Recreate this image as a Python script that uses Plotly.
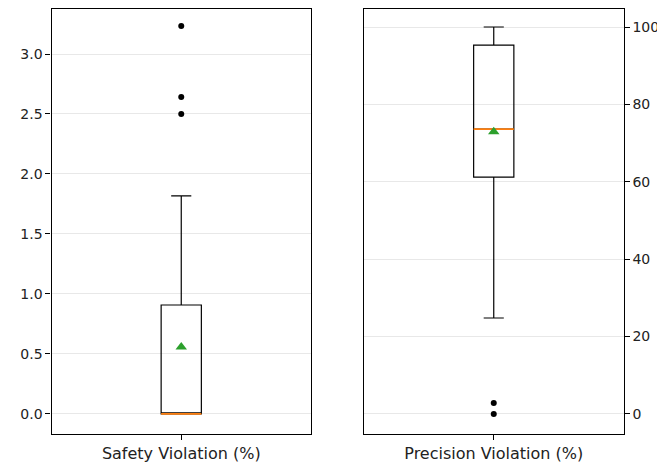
import plotly.graph_objects as go
from plotly.subplots import make_subplots

# Safety Violation (%) summary statistics
safety_label = ["Safety Violation (%)"]
safety_q1 = [0.0]
safety_median = [0.0]
safety_q3 = [0.908]
safety_low = [0.0]
safety_high = [1.817]
safety_mean = [0.558]
safety_outliers = [2.50, 2.642, 3.233]

# Precision Violation (%) summary statistics
precision_label = ["Precision Violation (%)"]
precision_q1 = [61.2]
precision_median = [73.6]
precision_q3 = [95.3]
precision_low = [24.8]
precision_high = [100.0]
precision_mean = [72.9]
precision_outliers = [0.0, 2.84]

BOX_W = 0.155
OFF = 8  # default page body margin
W, H = 665 - OFF, 464 - OFF
FONT = "DejaVu Sans"


def px_x(p):
    return (p - OFF) / W


def px_y(p):
    return 1 - (p - OFF) / H


fig = make_subplots(rows=1, cols=2)


def add_panel(col, q1, med, q3, lo, hi, mean, outl):
    x = [1]
    fig.add_trace(go.Box(
        x=x, q1=q1, median=med, q3=q3, lowerfence=lo, upperfence=hi,
        width=BOX_W, whiskerwidth=0.5,
        fillcolor="rgba(0,0,0,0)", line=dict(color="black", width=1.2),
        boxpoints=False, hoverinfo="skip", showlegend=False,
    ), row=1, col=col)
    # orange median line
    fig.add_trace(go.Scatter(
        x=[x[0] - BOX_W / 2, x[0] + BOX_W / 2], y=[med[0], med[0]],
        mode="lines", line=dict(color="#ff7f0e", width=1.8),
        showlegend=False, hoverinfo="skip",
    ), row=1, col=col)
    # mean marker
    fig.add_trace(go.Scatter(
        x=x, y=mean, mode="markers",
        marker=dict(symbol="triangle-up", color="#2ca02c", size=10),
        showlegend=False, hoverinfo="skip",
    ), row=1, col=col)
    # outliers
    fig.add_trace(go.Scatter(
        x=[x[0]] * len(outl), y=outl, mode="markers",
        marker=dict(symbol="circle", color="black", size=6),
        showlegend=False, hoverinfo="skip",
    ), row=1, col=col)


add_panel(1, safety_q1, safety_median, safety_q3, safety_low, safety_high,
          safety_mean, safety_outliers)
add_panel(2, precision_q1, precision_median, precision_q3, precision_low,
          precision_high, precision_mean, precision_outliers)

axis_common = dict(
    showline=True, linecolor="black", linewidth=1.2, mirror=True,
    ticks="outside", ticklen=5, tickwidth=1, tickcolor="black",
    zeroline=False, automargin=False,
)

fig.update_xaxes(**axis_common, range=[0.5, 1.5], showgrid=False,
                 tickfont=dict(family=FONT, size=16, color="#222"))
fig.update_xaxes(tickvals=[1], ticktext=safety_label, row=1, col=1,
                 domain=[px_x(51.5), px_x(311)])
fig.update_xaxes(tickvals=[1], ticktext=precision_label, row=1, col=2,
                 domain=[px_x(364), px_x(623.5)])

ydom = [px_y(434), px_y(9)]
fig.update_yaxes(**axis_common, showgrid=True, gridcolor="#e8e8e8",
                 gridwidth=1, domain=ydom,
                 tickfont=dict(family=FONT, size=14, color="#222"))
fig.update_yaxes(range=[-0.167, 3.375], tickvals=[0, 0.5, 1, 1.5, 2, 2.5, 3],
                 tickformat=".1f", row=1, col=1)
fig.update_yaxes(range=[-5.17, 104.65], tickvals=[0, 20, 40, 60, 80, 100],
                 side="right", row=1, col=2)

fig.update_layout(
    width=W, height=H,
    margin=dict(l=0, r=0, t=0, b=0),
    plot_bgcolor="white", paper_bgcolor="white",
    font=dict(family=FONT, size=14, color="#222"),
)

fig.write_html("out.html", config={"displayModeBar": False})
